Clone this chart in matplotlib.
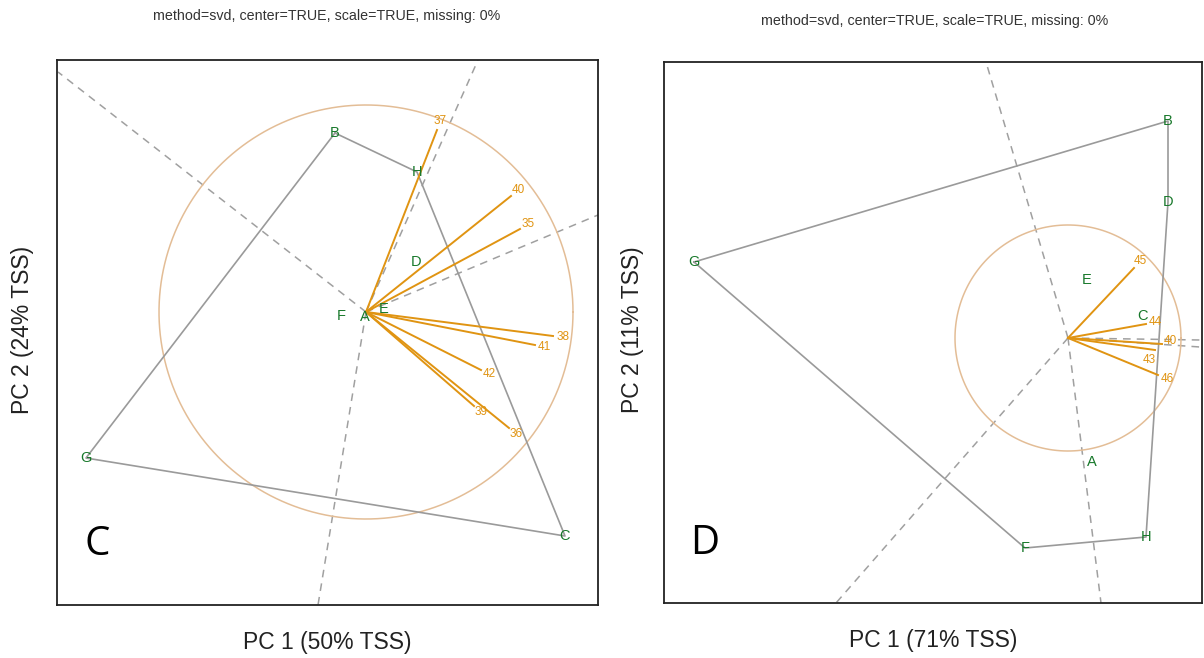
import numpy as np
import matplotlib
matplotlib.use("Agg")
import matplotlib.pyplot as plt

plt.rcParams['font.family'] = ['Liberation Sans', 'DejaVu Sans']

# ---- panel C (left) ----
c_samples = ['A', 'B', 'C', 'D', 'E', 'F', 'G', 'H']
c_sx = [-0.01, -0.31, 1.99, 0.50, 0.18, -0.25, -2.80, 0.51]
c_sy = [-0.05, 1.79, -2.24, 0.50, 0.03, -0.04, -1.46, 1.40]
c_hull = ['B', 'H', 'C', 'G', 'B']
c_vars = ['37', '40', '35', '38', '41', '42', '39', '36']
c_vx = [0.71, 1.45, 1.54, 1.87, 1.69, 1.15, 1.08, 1.43]
c_vy = [1.82, 1.16, 0.83, -0.24, -0.33, -0.58, -0.94, -1.16]
c_rays_x = [-3.08, 1.12, 2.32, -0.48]
c_rays_y = [2.40, 2.52, 0.97, -2.93]
c_radius = 2.07
c_xlim = (-3.09, 2.32)
c_ylim = (-2.93, 2.52)

# ---- panel D (right) ----
d_samples = ['A', 'B', 'C', 'D', 'E', 'F', 'G', 'H']
d_sx = [0.24, 1.00, 0.74, 1.00, 0.19, -0.43, -3.74, 0.78]
d_sy = [-1.24, 2.17, 0.22, 1.36, 0.58, -2.10, 0.76, -1.99]
d_hull = ['G', 'B', 'D', 'H', 'F', 'G']
d_vars = ['45', '44', '40', '43', '46']
d_vx = [0.66, 0.78, 0.94, 0.87, 0.90]
d_vy = [0.70, 0.14, -0.06, -0.12, -0.37]
d_rays_x = [-0.82, 0.33, -2.32, 1.32, 1.32]
d_rays_y = [2.76, -2.65, -2.65, -0.02, -0.09]
d_radius = 1.13
d_xlim = (-4.04, 1.34)
d_ylim = (-2.65, 2.76)

green = '#17782a'
orange = '#e09412'
tan = '#e3bd96'

# small label nudges (points) for crowded arrow labels
nudge = {'40r': (6, 2), '43r': (-4, -7)}

fig = plt.figure(figsize=(12.04, 6.58), dpi=100)


def draw_panel(rect, names, sx, sy, hull, vars_, vx, vy, rx, ry, radius,
               xlim, ylim, letter, key):
    ax = fig.add_axes(rect)
    ax.set_xlim(*xlim)
    ax.set_ylim(*ylim)
    ax.set_xticks([])
    ax.set_yticks([])
    for s in ax.spines.values():
        s.set_linewidth(1.3)
        s.set_color('#222222')
    # dashed rays
    for x, y in zip(rx, ry):
        ax.plot([0, x], [0, y], ls=(0, (5, 4)), color='#a0a0a0', lw=1.1, zorder=1)
    # correlation circle
    t = np.linspace(0, 2 * np.pi, 200)
    ax.plot(radius * np.cos(t), radius * np.sin(t), color=tan, lw=1.1, zorder=2)
    # hull
    pos = {n: (x, y) for n, x, y in zip(names, sx, sy)}
    hx = [pos[n][0] for n in hull]
    hy = [pos[n][1] for n in hull]
    ax.plot(hx, hy, color='#9a9a9a', lw=1.2, zorder=3)
    # loading arrows
    for lab, x, y in zip(vars_, vx, vy):
        ax.plot([0, x], [0, y], color=orange, lw=1.4, zorder=4)
        ang = np.arctan2(y, x)
        off = nudge.get(lab + key, (7 * np.cos(ang), 7 * np.sin(ang)))
        ax.annotate(lab, (x, y), xytext=off, textcoords='offset points',
                    color=orange, fontsize=8.5, ha='center', va='center', zorder=5)
    # sample labels
    for n, x, y in zip(names, sx, sy):
        ax.text(x, y, n, color=green, fontsize=10.5, ha='center', va='center', zorder=6)
    ax.text(0.075, 0.11, letter, transform=ax.transAxes, fontsize=29,
            family='Open Sans', ha='center', va='center', color='black')
    return ax


ax1 = draw_panel([57 / 1204, 53 / 658, 541 / 1204, 545 / 658],
                 c_samples, c_sx, c_sy, c_hull, c_vars, c_vx, c_vy,
                 c_rays_x, c_rays_y, c_radius, c_xlim, c_ylim, 'C', 'l')
ax2 = draw_panel([664 / 1204, 55 / 658, 538 / 1204, 541 / 658],
                 d_samples, d_sx, d_sy, d_hull, d_vars, d_vx, d_vy,
                 d_rays_x, d_rays_y, d_radius, d_xlim, d_ylim, 'D', 'r')

title = 'method=svd, center=TRUE, scale=TRUE, missing: 0%'
fig.text(327 / 1204, 1 - 16 / 658, title, ha='center', va='center', fontsize=10.3, color='#333333')
fig.text(935 / 1204, 1 - 21 / 658, title, ha='center', va='center', fontsize=10.3, color='#333333')

fig.text(327 / 1204, 1 - 642 / 658, 'PC 1 (50% TSS)', ha='center', va='center', fontsize=16.5, color='#222222')
fig.text(933 / 1204, 1 - 640 / 658, 'PC 1 (71% TSS)', ha='center', va='center', fontsize=16.5, color='#222222')
fig.text(22 / 1204, 1 - 330 / 658, 'PC 2 (24% TSS)', ha='center', va='center', fontsize=16.5,
         rotation=90, color='#222222')
fig.text(632 / 1204, 1 - 330 / 658, 'PC 2 (11% TSS)', ha='center', va='center', fontsize=16.5,
         rotation=90, color='#222222')

fig.savefig('out.png', dpi=100)
